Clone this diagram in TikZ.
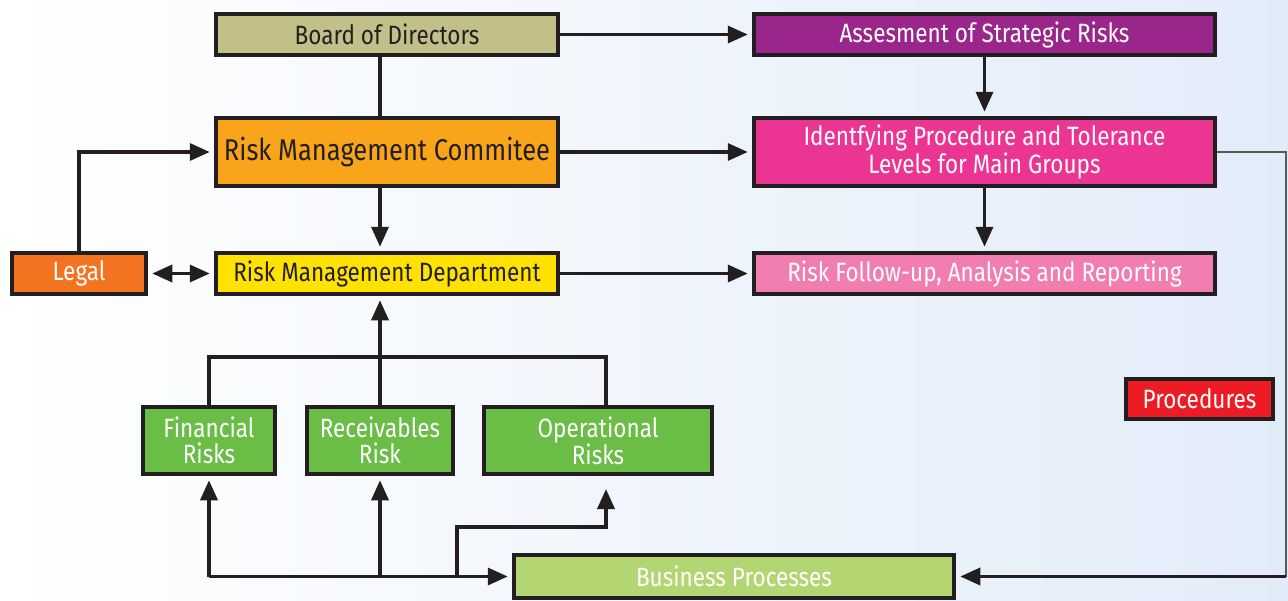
\documentclass[tikz,border=0pt]{standalone}
\usepackage{fontspec}
\setmainfont[FakeStretch=0.85]{Fira Sans}
\usepackage{tikz}
\usetikzlibrary{arrows.meta}

\definecolor{inkline}{RGB}{35,31,32}
\definecolor{bgblue}{RGB}{226,236,249}
\definecolor{boardcol}{RGB}{195,191,136}
\definecolor{stratcol}{RGB}{155,38,139}
\definecolor{commcol}{RGB}{248,165,27}
\definecolor{identcol}{RGB}{236,53,146}
\definecolor{legalcol}{RGB}{243,115,33}
\definecolor{deptcol}{RGB}{255,226,0}
\definecolor{followcol}{RGB}{242,125,176}
\definecolor{riskcol}{RGB}{106,189,69}
\definecolor{proccol}{RGB}{237,28,36}
\definecolor{buscol}{RGB}{180,214,114}

\tikzset{
  box/.style={draw=inkline, line width=4.5pt, inner sep=2pt, align=center,
    minimum height=41pt, font=\fontsize{26.5}{26}\selectfont},
  lightbox/.style={box, text=white},
  darkbox/.style={box, text=inkline},
  link/.style={draw=inkline, line width=3.5pt, shorten >=4pt,
    >={Triangle[length=20pt,width=17pt]}},
  plainlink/.style={draw=inkline, line width=3.5pt},
  feedback/.style={draw=inkline!75, line width=1.8pt}
}

\begin{document}
\begin{tikzpicture}[x=1pt, y=-1pt]
    \useasboundingbox (0,0) rectangle (1288,600);
    \fill[left color=white, right color=bgblue] (0,0) rectangle (1288,600);

    % left column
    \node[darkbox, fill=boardcol, minimum width=342pt] at (387,34.5) (board) {Board of Directors};
    \node[darkbox, fill=commcol, minimum width=342pt, minimum height=68pt,
      font=\fontsize{30}{30}\selectfont] at (387,152) (comm) {Risk Management Commitee};
    \node[darkbox, fill=deptcol, minimum width=342pt] at (387,273.5) (dept) {Risk Management Department};
    \node[lightbox, fill=legalcol, minimum width=134pt] at (79,273.5) (legal) {Legal};

    % right column
    \node[lightbox, fill=stratcol, minimum width=461pt] at (984.5,34.5) (strat) {Assesment of Strategic Risks};
    \node[lightbox, fill=identcol, minimum width=461pt, minimum height=68pt] at (984.5,152) (ident)
      {Identfying Procedure and Tolerance\\Levels for Main Groups};
    \node[lightbox, fill=followcol, minimum width=461pt] at (984.5,273.5) (follow) {Risk Follow-up, Analysis and Reporting};
    \node[lightbox, fill=proccol, minimum width=147pt, minimum height=40pt] at (1199.5,399) (proc) {Procedures};

    % risk groups
    \node[lightbox, fill=riskcol, minimum width=132pt, minimum height=67pt] at (209,440.5) (fin) {Financial\\Risks};
    \node[lightbox, fill=riskcol, minimum width=146pt, minimum height=67pt] at (380,440.5) (recv) {Receivables\\Risk};
    \node[lightbox, fill=riskcol, minimum width=228pt, minimum height=67pt] at (598,440.5) (oper) {Operational\\Risks};
    \node[lightbox, fill=buscol, minimum width=440pt, minimum height=43pt] at (734,576.5) (bus) {Business Processes};

    \coordinate (join) at (380,357);
    \coordinate (opin) at (606,485);
    \coordinate (bend) at (457,527);
    \coordinate (edge) at (1286,152);

    % top part
    \draw[plainlink] (board.south -| join) -- (comm.north -| join);
    \draw[link, ->] (board) -- (strat);
    \draw[link, ->] (strat) -- (ident);
    \draw[link, ->] (comm) -- (ident);
    \draw[link, ->] (ident) -- (follow);
    \draw[link, ->] (comm.south -| join) -- (dept.north -| join);
    \draw[link, ->] (dept) -- (follow);
    \draw[link, <->, shorten <=4pt] (legal) -- (dept);
    \draw[link, ->] (legal.north) |- (comm.west);

    % risk groups to department
    \draw[plainlink] (fin.north) |- (join) -| (opin |- oper.north);
    \draw[link, ->] (recv.north) -- (dept.south -| recv.north);

    % business processes to risk groups
    \draw[link, ->] (fin.south |- bus.west) -- (bus.west);
    \draw[link, ->] (fin.south |- bus.west) -- (fin.south);
    \draw[link, ->] (recv.south |- bus.west) -- (recv.south);
    \draw[link, ->] (bend |- bus.west) -- (bend) -| (opin);

    % feedback loop
    \draw[feedback] (ident.east) -- (edge) -- (edge |- bus.east);
    \draw[link, ->] (edge |- bus.east) -- (bus.east);
\end{tikzpicture}
\end{document}
